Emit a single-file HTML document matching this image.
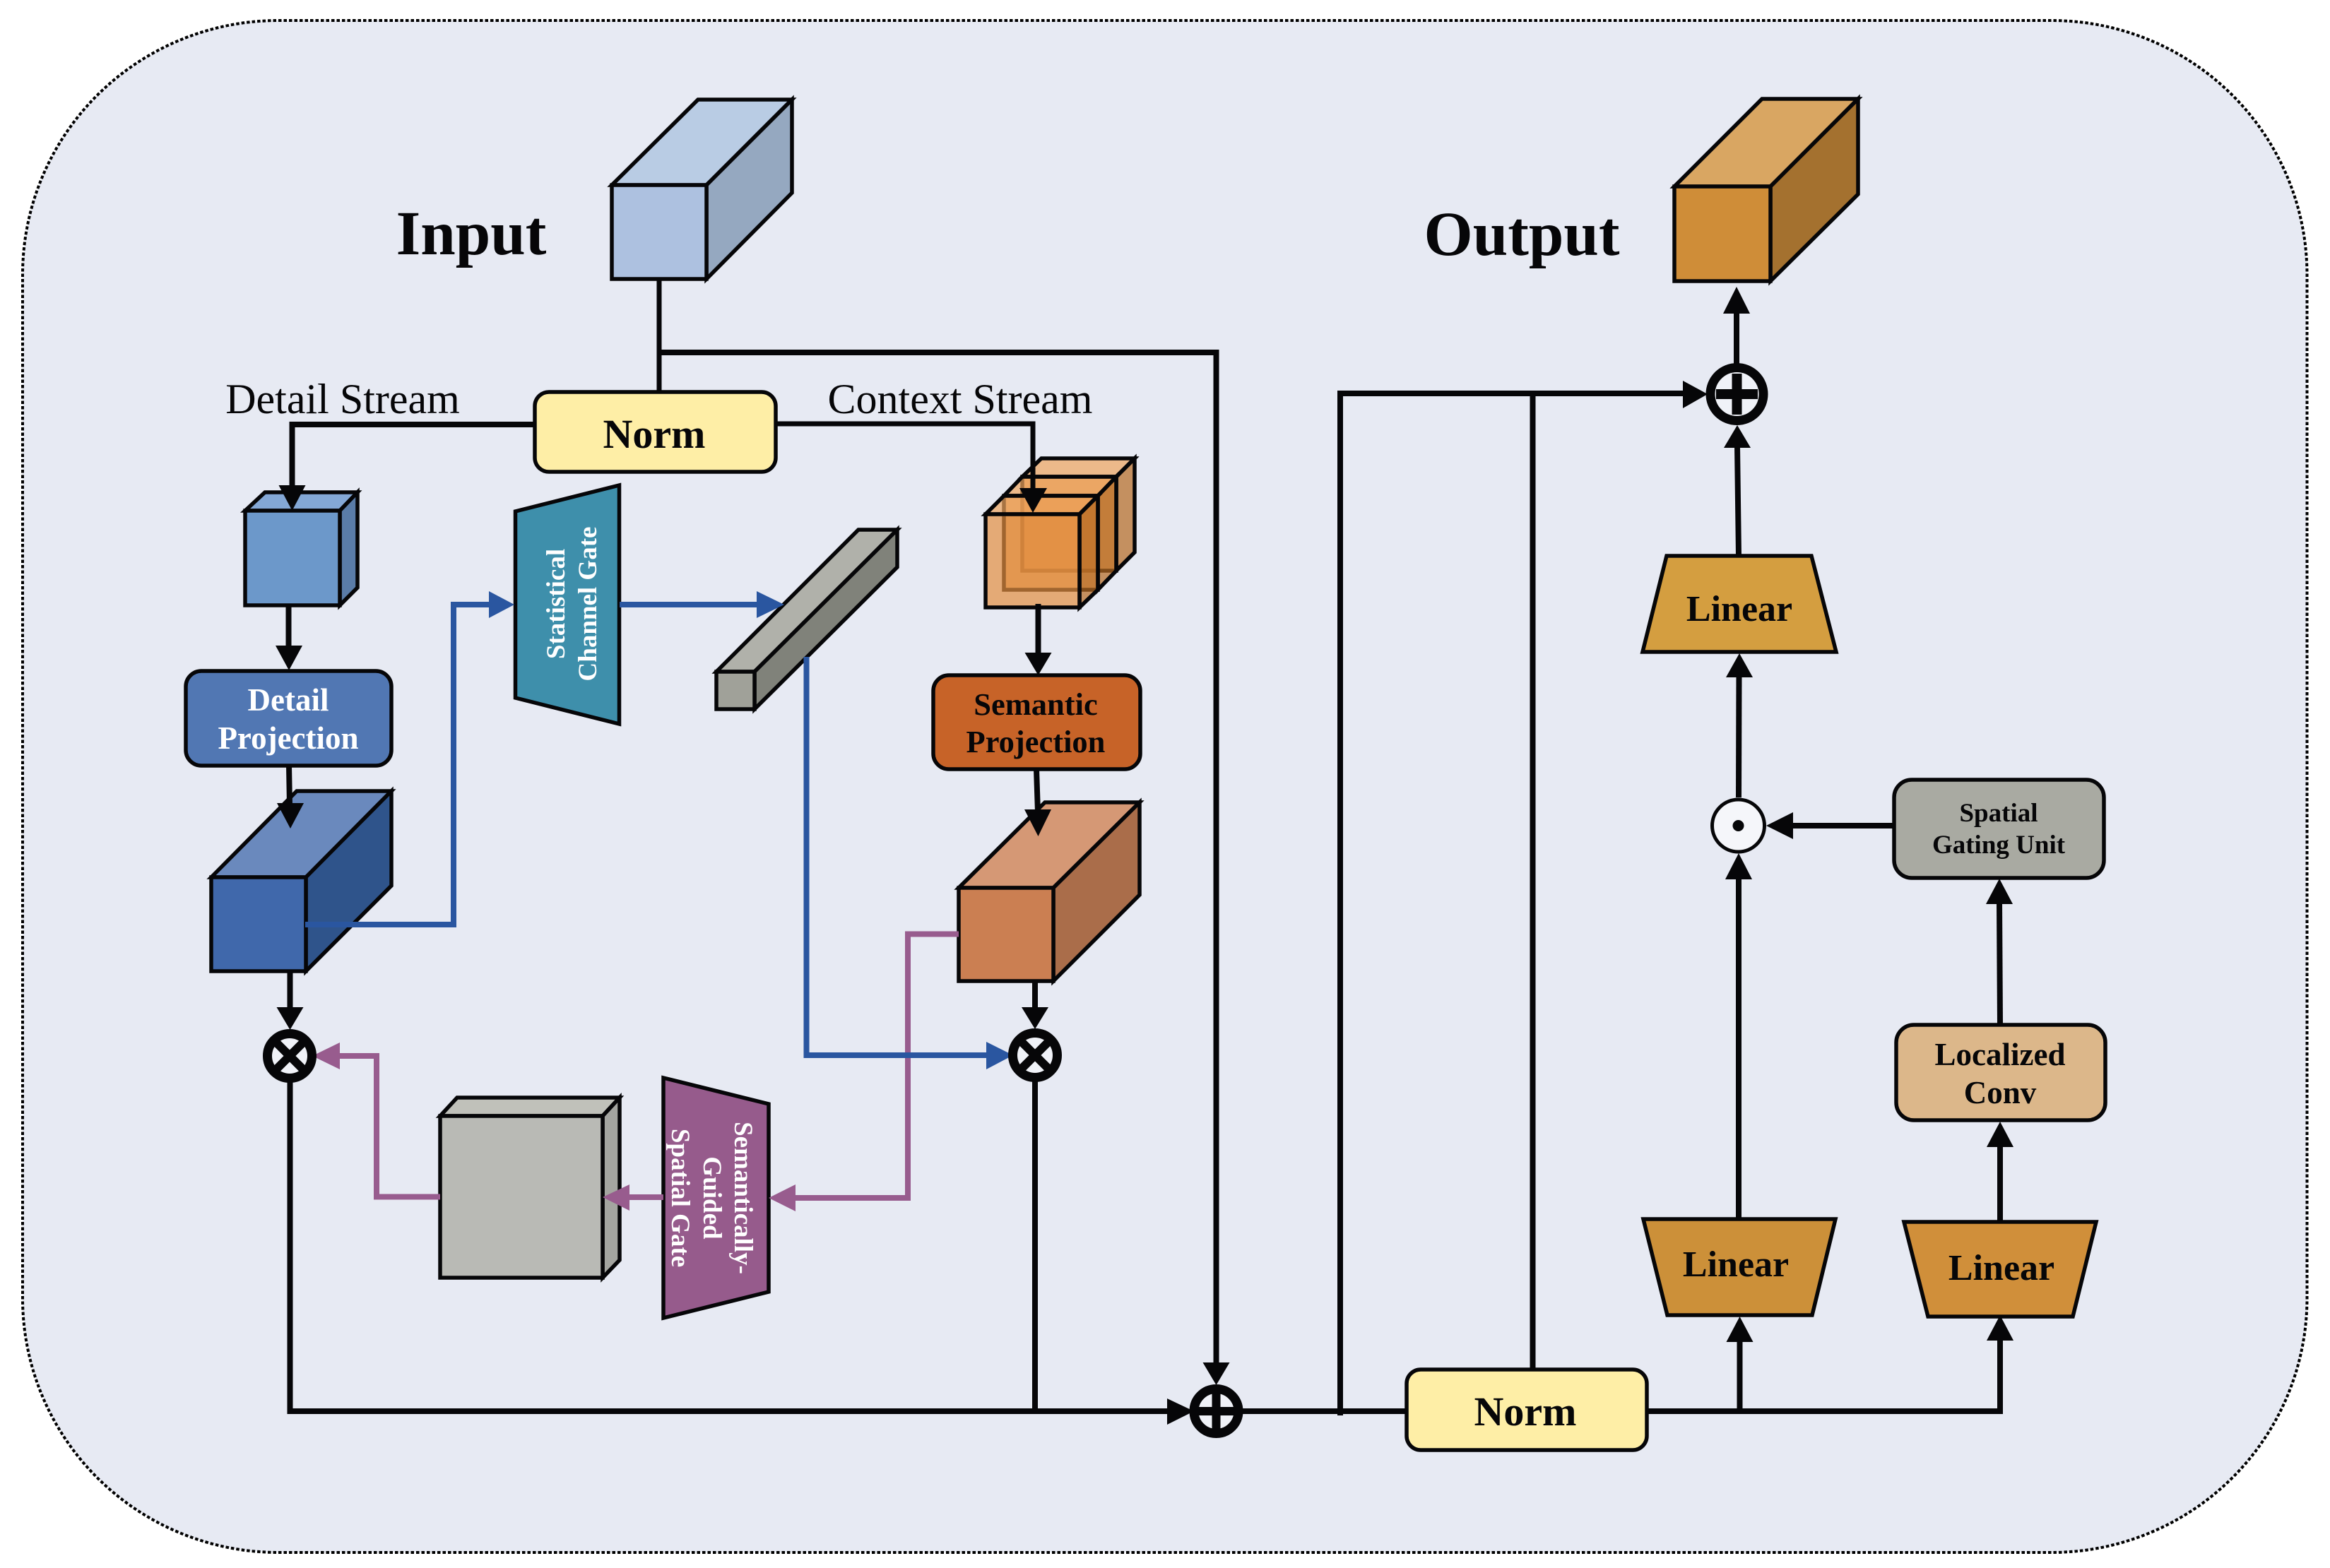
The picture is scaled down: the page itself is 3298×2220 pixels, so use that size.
<!DOCTYPE html>
<html><head><meta charset="utf-8"><style>
html,body{margin:0;padding:0;background:#fff}
svg{display:block}
text{font-family:"Liberation Serif",serif}
</style></head><body>
<svg width="3298" height="2220" viewBox="0 0 3298 2220" xmlns="http://www.w3.org/2000/svg">
<rect x="32" y="29" width="3233.5" height="2169" rx="362" ry="360" fill="#e7eaf3" stroke="#000" stroke-width="4" stroke-dasharray="4.5 3"/>

<g stroke="#060608" stroke-width="5.5" stroke-linejoin="miter">
<!-- Input cube -->
<polygon points="866,262 988,141 1121,141 1000,262" fill="#b9cce4"/>
<polygon points="1000,262 1121,141 1121,273 1000,395" fill="#95a8c0"/>
<rect x="866" y="262" width="134" height="133" fill="#adc1e0"/>
<!-- Output cube -->
<polygon points="2370,264 2494,140 2630,140 2506,264" fill="#d9a662"/>
<polygon points="2506,264 2630,140 2630,275 2506,398" fill="#a4712f"/>
<rect x="2370" y="264" width="136" height="134" fill="#cf8d38"/>
<!-- small blue cube -->
<polygon points="347,723 375,697 506,697 481,723" fill="#84a8d6"/>
<polygon points="481,723 506,697 506,832 481,857" fill="#5a7ca8"/>
<rect x="347" y="723" width="134" height="134" fill="#6c98ca"/>
<!-- big blue cube -->
<polygon points="299,1242 420,1120 554,1120 433,1242" fill="#6a89bd"/>
<polygon points="433,1242 554,1120 554,1254 433,1375" fill="#2f548b"/>
<rect x="299" y="1242" width="134" height="133" fill="#4068ab"/>
<!-- grey bar -->
<polygon points="1014,951 1215,750 1270,750 1068,951" fill="#b0b1aa"/>
<polygon points="1068,951 1270,750 1270,803 1068,1004" fill="#80827a"/>
<rect x="1014" y="951" width="54" height="53" fill="#a0a199"/>
<!-- orange stack back -->
<g>
<polygon points="1447,675 1474,649 1606,649 1580,675" fill="#eea45d" fill-opacity=".7"/>
<polygon points="1580,675 1606,649 1606,782 1580,808" fill="#b56a21" fill-opacity=".7"/>
<rect x="1447" y="675" width="133" height="133" fill="#e38f40" fill-opacity=".7"/>
</g>
<g>
<polygon points="1421,702 1447,675 1580,675 1554,702" fill="#eea45d" fill-opacity=".7"/>
<polygon points="1554,702 1580,675 1580,808 1554,835" fill="#b56a21" fill-opacity=".7"/>
<rect x="1421" y="702" width="133" height="133" fill="#e38f40" fill-opacity=".7"/>
</g>
<g>
<polygon points="1395,728 1421,702 1554,702 1528,728" fill="#eea45d" fill-opacity=".7"/>
<polygon points="1528,728 1554,702 1554,835 1528,860" fill="#b56a21" fill-opacity=".7"/>
<rect x="1395" y="728" width="133" height="132" fill="#e38f40" fill-opacity=".7"/>
</g>
<!-- big orange cube -->
<polygon points="1357,1257 1479,1136 1613,1136 1491,1257" fill="#d59875"/>
<polygon points="1491,1257 1613,1136 1613,1267 1491,1389" fill="#aa6d4a"/>
<rect x="1357" y="1257" width="134" height="132" fill="#cb7f52"/>
<!-- grey cube -->
<polygon points="623,1580 647,1554 877,1554 853,1580" fill="#c0c1ba"/>
<polygon points="853,1580 877,1554 877,1784 853,1809" fill="#a4a5a0"/>
<rect x="623" y="1580" width="230" height="229" fill="#b9bab5"/>
<!-- boxes -->
<rect x="757" y="555" width="341" height="113" rx="20" fill="#feeea6"/>
<rect x="1991" y="1939" width="340" height="114" rx="20" fill="#feeea6"/>
<rect x="263" y="950" width="291" height="134" rx="22" fill="#5177b3"/>
<rect x="1321" y="956" width="293" height="133" rx="22" fill="#c76328"/>
<rect x="2681" y="1104" width="297" height="139" rx="25" fill="#a9aaa2"/>
<rect x="2684" y="1451" width="296" height="135" rx="25" fill="#dcb78a"/>
<!-- trapezoids -->
<polygon points="729.5,724 876.5,687 876.5,1025 729.5,988" fill="#3e8fab"/>
<polygon points="939,1526 1088,1563 1088,1829 939,1866" fill="#965b8c"/>
<polygon points="2359,787 2564,787 2599,923 2325,923" fill="#d49e40"/>
<polygon points="2326,1726 2598,1726 2565,1862 2360,1862" fill="#cc9039"/>
<polygon points="2695,1730 2967,1730 2934,1864 2729,1864" fill="#d08f3a"/>
</g>

<!-- black connectors -->
<g fill="none" stroke="#060608" stroke-width="8">
<path d="M933,395V555" stroke-width="7"/>
<path d="M933,499H1721.5V1930"/>
<path d="M756,601H413.5V690"/>
<path d="M1099,600H1462V695" stroke-width="7"/>
<path d="M408.5,857V915"/>
<path d="M409,1084L410,1140"/>
<path d="M1469.5,855V926"/>
<path d="M1467,1089L1469,1150"/>
<path d="M410.5,1375V1428"/>
<path d="M1465,1389V1428"/>
<path d="M410.5,1530V1998H1655" />
<path d="M1465,1530V1998"/>
<path d="M1758,1998H1991"/>
<path d="M1897,2004V557H2385"/>
<path d="M2169.5,1939V557"/>
<path d="M2331,1998H2831V1896"/>
<path d="M2462.5,1998V1898"/>
<path d="M2831,1729V1622"/>
<path d="M2831,1451L2830,1278"/>
<path d="M2461,1726V1243"/>
<path d="M2681,1169H2536"/>
<path d="M2461,1129L2461.5,957"/>
<path d="M2461,787L2459,632"/>
<path d="M2458,516V442"/>
</g>

<!-- black arrowheads -->
<g fill="#060608">
<polygon points="394.5,687 432.5,687 413.5,723"/>
<polygon points="390,914 428,914 409,949"/>
<polygon points="392,1137 430,1137 411,1173"/>
<polygon points="391.5,1426 429.5,1426 410.5,1458"/>
<polygon points="1446,1426 1484,1426 1465,1457"/>
<polygon points="1443,691 1482,691 1462,726"/>
<polygon points="1450.5,924 1488.5,924 1469.5,956"/>
<polygon points="1450,1146 1488,1146 1469.5,1184"/>
<polygon points="1702.5,1929 1740.5,1929 1721.5,1961"/>
<polygon points="1652,1980 1652,2017 1690,1998"/>
<polygon points="2382,539 2382,578 2417,558"/>
<polygon points="2439,444 2477,444 2458,406"/>
<polygon points="2440,634 2478,634 2459,602"/>
<polygon points="2443,959 2481,959 2462,925"/>
<polygon points="2442,1245 2480,1245 2461,1208"/>
<polygon points="2443.5,1900 2481.5,1900 2462.5,1864"/>
<polygon points="2812,1898 2850,1898 2831,1862"/>
<polygon points="2812,1624 2850,1624 2831,1588"/>
<polygon points="2811,1280 2849,1280 2830,1244"/>
<polygon points="2538,1150 2538,1188 2500,1169"/>
</g>

<!-- purple connectors -->
<g fill="none" stroke="#985c8e" stroke-width="8">
<path d="M1357,1322.5H1285V1696H1120"/>
<path d="M939,1695H885"/>
<path d="M623,1694.5H533V1495H475"/>
</g>
<g fill="#985c8e">
<polygon points="1126,1677 1126,1715 1088,1696"/>
<polygon points="891,1677 891,1714 853,1695"/>
<polygon points="481,1476 481,1514 442,1495"/>
</g>

<!-- blue connectors -->
<g fill="none" stroke="#2a56a0" stroke-width="8">
<path d="M432,1309H642V856H695"/>
<path d="M877,856H1075"/>
<path d="M1141.5,930V1494H1400"/>
</g>
<g fill="#2a56a0">
<polygon points="692,837 692,875 728,856"/>
<polygon points="1071,837 1071,875 1110,856"/>
<polygon points="1396,1475 1396,1514 1434,1494"/>
</g>

<!-- operators -->
<g fill="#f0f2f8" stroke="#060608" stroke-width="13">
<circle cx="410" cy="1495" r="31.5"/>
<circle cx="1465" cy="1494" r="31.5"/>
<circle cx="1721.5" cy="1998" r="31.5"/>
<circle cx="2458.5" cy="558" r="37.5"/>
</g>
<g stroke="#060608" stroke-width="12" fill="none">
<path d="M388,1473L432,1517M432,1473L388,1517"/>
<path d="M1443,1472L1487,1516M1487,1472L1443,1516"/>
<path d="M1721.5,1970V2026M1693.5,1998H1749.5"/>
<path d="M2458.5,529V587M2429,558H2488" stroke-width="14"/>
</g>
<circle cx="2460.5" cy="1169" r="37" fill="#f5f6fa" stroke="#060608" stroke-width="5"/>
<circle cx="2460.5" cy="1169" r="8" fill="#060608"/>

<!-- labels -->
<g fill="#060608" text-anchor="middle">
<text x="667" y="360" font-size="89" font-weight="700">Input</text>
<text x="2154" y="361" font-size="89" font-weight="700">Output</text>
<text x="485" y="585" font-size="60">Detail Stream</text>
<text x="1359" y="585" font-size="60">Context Stream</text>
<text x="926" y="634" font-size="58" font-weight="700">Norm</text>
<text x="2159" y="2018" font-size="58" font-weight="700">Norm</text>
<text x="1466" y="1012" font-size="44.5" font-weight="700">Semantic</text>
<text x="1466" y="1065" font-size="44.5" font-weight="700">Projection</text>
<text x="2462" y="879" font-size="52" font-weight="700">Linear</text>
<text x="2457" y="1807" font-size="52" font-weight="700">Linear</text>
<text x="2833" y="1812" font-size="52" font-weight="700">Linear</text>
<text x="2829" y="1163" font-size="37" font-weight="700">Spatial</text>
<text x="2829" y="1208" font-size="37" font-weight="700">Gating Unit</text>
<text x="2831" y="1508" font-size="45" font-weight="700">Localized</text>
<text x="2831" y="1562" font-size="45" font-weight="700">Conv</text>
</g>
<g fill="#fff" text-anchor="middle" font-weight="700">
<text x="408" y="1006" font-size="45">Detail</text>
<text x="408" y="1060" font-size="45">Projection</text>
<text transform="translate(799,855) rotate(-90)" font-size="37">Statistical</text>
<text transform="translate(844,855) rotate(-90)" font-size="37">Channel Gate</text>
<text transform="translate(1040,1696) rotate(90)" font-size="37">Semantically-</text>
<text transform="translate(996,1696) rotate(90)" font-size="37">Guided</text>
<text transform="translate(951,1696) rotate(90)" font-size="37">Spatial Gate</text>
</g>
</svg>
</body></html>
